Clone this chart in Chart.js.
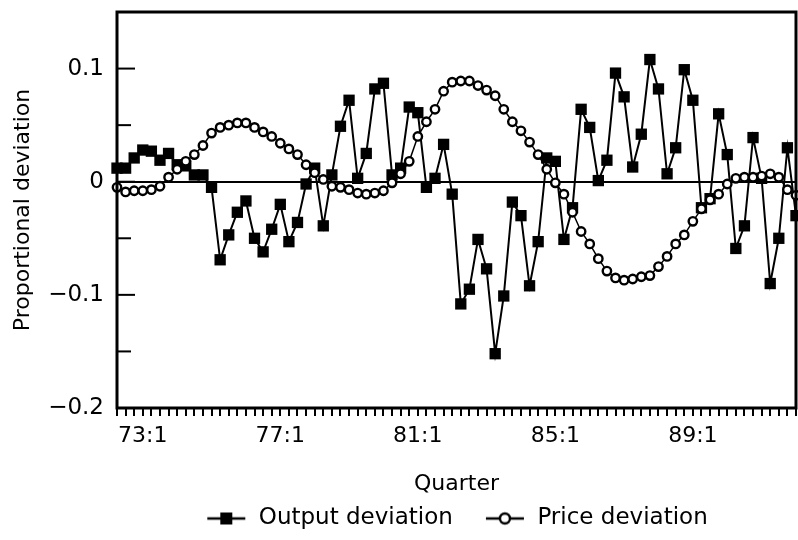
<!DOCTYPE html>
<html>
<head>
<meta charset="utf-8">
<script src="https://cdn.jsdelivr.net/npm/chart.js@4.4.0/dist/chart.umd.min.js"></script>
<style>
  html, body { margin: 0; padding: 0; background: #fff; }
  #wrap { width: 798px; height: 540px; }
</style>
</head>
<body>
<div id="wrap"><canvas id="fig" width="798" height="540"></canvas></div>
<script>
// quarters 72:2 .. 92:1
const quarters = [];
for (let i = 0; i < 80; i++) {
  const q = 1 + i;
  quarters.push((72 + Math.floor(q / 4)) + ':' + (q % 4 + 1));
}
const tickLabels = ['73:1', '77:1', '81:1', '85:1', '89:1'];
const yTickValues = [0.1, 0, -0.1, -0.2];
const yTickText = ['0.1', '0', '\u22120.1', '\u22120.2'];

const outputDeviation = [
  0.012, 0.012, 0.021, 0.028, 0.027, 0.019, 0.025, 0.015, 0.014, 0.006,
  0.006, -0.005, -0.069, -0.047, -0.027, -0.017, -0.050, -0.062, -0.042, -0.020,
  -0.053, -0.036, -0.002, 0.012, -0.039, 0.006, 0.049, 0.072, 0.003, 0.025,
  0.082, 0.087, 0.006, 0.012, 0.066, 0.061, -0.005, 0.003, 0.033, -0.011,
  -0.108, -0.095, -0.051, -0.077, -0.152, -0.101, -0.018, -0.030, -0.092, -0.053,
  0.021, 0.018, -0.051, -0.023, 0.064, 0.048, 0.001, 0.019, 0.096, 0.075,
  0.013, 0.042, 0.108, 0.082, 0.007, 0.030, 0.099, 0.072, -0.023, -0.015,
  0.060, 0.024, -0.059, -0.039, 0.039, 0.003, -0.090, -0.050, 0.030, -0.030
];
const priceDeviation = [
  -0.005, -0.009, -0.008, -0.008, -0.007, -0.004, 0.004, 0.011, 0.018, 0.024,
  0.032, 0.043, 0.048, 0.050, 0.052, 0.052, 0.048, 0.044, 0.040, 0.034,
  0.029, 0.024, 0.015, 0.008, 0.002, -0.004, -0.005, -0.007, -0.010, -0.011,
  -0.010, -0.008, -0.001, 0.007, 0.018, 0.040, 0.053, 0.064, 0.080, 0.088,
  0.089, 0.089, 0.085, 0.081, 0.076, 0.064, 0.053, 0.045, 0.035, 0.024,
  0.011, -0.001, -0.011, -0.027, -0.044, -0.055, -0.068, -0.079, -0.085, -0.087,
  -0.086, -0.084, -0.083, -0.075, -0.066, -0.055, -0.047, -0.035, -0.024, -0.016,
  -0.011, -0.002, 0.003, 0.004, 0.004, 0.005, 0.007, 0.004, -0.007, -0.012
];

const FONT = 'DejaVu Sans';

function isMajor(v) {
  return yTickValues.findIndex(t => Math.abs(t - v) < 1e-9);
}

function legendGlyph(kind) {
  const c = document.createElement('canvas');
  c.width = 42; c.height = 16;
  const g = c.getContext('2d');
  g.strokeStyle = '#000';
  g.lineWidth = 2.5;
  g.beginPath(); g.moveTo(2, 8); g.lineTo(40, 8); g.stroke();
  if (kind === 'rect') {
    g.fillStyle = '#000';
    g.fillRect(15, 2, 12, 12);
  } else {
    g.fillStyle = '#fff';
    g.lineWidth = 2.4;
    g.beginPath(); g.arc(21, 8, 5, 0, Math.PI * 2); g.fill(); g.stroke();
  }
  return c;
}
const glyphs = [legendGlyph('rect'), legendGlyph('circle')];

const framePlugin = {
  id: 'frame',
  afterDraw(chart) {
    const { ctx, chartArea: a } = chart;
    const y = chart.scales.y;
    ctx.save();
    ctx.strokeStyle = '#000';
    ctx.lineWidth = 3;
    ctx.strokeRect(a.left, a.top, a.right - a.left, a.bottom - a.top);
    ctx.lineWidth = 2;
    y.ticks.forEach(t => {
      const py = y.getPixelForValue(t.value);
      ctx.beginPath();
      ctx.moveTo(a.left, py);
      ctx.lineTo(a.left + (isMajor(t.value) >= 0 ? 18 : 14), py);
      ctx.stroke();
    });
    ctx.restore();
  }
};

new Chart(document.getElementById('fig'), {
  type: 'line',
  data: {
    labels: quarters,
    datasets: [{
      label: 'Output deviation',
      data: outputDeviation,
      borderColor: '#000',
      borderWidth: 2,
      pointStyle: 'rect',
      pointRadius: 8,
      pointBackgroundColor: '#000',
      pointBorderWidth: 0,
      tension: 0,
      order: 1
    }, {
      label: 'Price deviation',
      data: priceDeviation,
      borderColor: '#000',
      borderWidth: 1.5,
      pointStyle: 'circle',
      pointRadius: 4.2,
      pointBackgroundColor: '#fff',
      pointBorderColor: '#000',
      pointBorderWidth: 2.4,
      tension: 0,
      order: 0
    }]
  },
  options: {
    responsive: false,
    animation: false,
    devicePixelRatio: 1,
    layout: { autoPadding: false, padding: { top: 12, right: 2, left: 0, bottom: 0 } },
    plugins: {
      tooltip: { enabled: false },
      legend: {
        position: 'bottom',
        fullSize: false,
        labels: {
          usePointStyle: true,
          pointStyleWidth: 42,
          padding: 8,
          color: '#000',
          font: { family: FONT, size: 23 },
          generateLabels: chart => chart.data.datasets.map((ds, i) => ({
            text: i === 0 ? ds.label + '\u2003' : ds.label,
            pointStyle: glyphs[i],
            datasetIndex: i,
            fillStyle: 'transparent',
            strokeStyle: 'transparent',
            lineWidth: 0,
            fontColor: '#000',
            hidden: false
          }))
        }
      }
    },
    scales: {
      x: {
        type: 'category',
        offset: false,
        afterFit: s => {
          s.height = 91;
          s.paddingLeft = 0;
          s.paddingRight = 0;
        },
        border: { display: false },
        grid: {
          drawOnChartArea: false,
          drawTicks: true,
          tickLength: 8,
          color: '#000',
          lineWidth: 2
        },
        ticks: {
          autoSkip: false,
          maxRotation: 0,
          padding: 7,
          color: '#000',
          font: { family: FONT, size: 22 },
          callback: (v, i) => tickLabels.includes(quarters[i]) ? quarters[i] : ''
        },
        title: {
          display: true,
          text: 'Quarter',
          color: '#000',
          font: { family: FONT, size: 22 },
          padding: { top: 6, bottom: 2 }
        }
      },
      y: {
        min: -0.2,
        max: 0.15,
        afterFit: s => {
          s.width = 117;
          s.paddingTop = 0;
          s.paddingBottom = 0;
        },
        border: { display: false },
        grid: {
          drawTicks: false,
          lineWidth: 2,
          color: c => Math.abs(c.tick.value) < 1e-9 ? '#000' : 'rgba(0,0,0,0)'
        },
        ticks: {
          stepSize: 0.05,
          padding: 13,
          color: '#000',
          font: { family: FONT, size: 23 },
          callback: v => {
            const k = isMajor(v);
            return k >= 0 ? yTickText[k] : '';
          }
        },
        title: {
          display: true,
          text: 'Proportional deviation',
          color: '#000',
          font: { family: FONT, size: 22 },
          padding: { top: 10, bottom: 0 }
        }
      }
    }
  },
  plugins: [framePlugin]
});
</script>
</body>
</html>
